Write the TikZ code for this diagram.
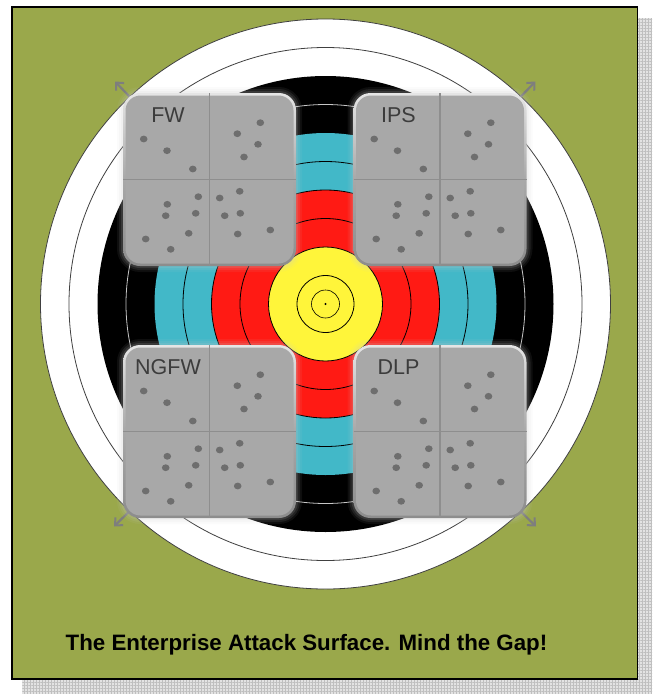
\documentclass[tikz,border=0pt]{standalone}
\usepackage{fontspec}
\setmainfont{Liberation Sans}
\usetikzlibrary{arrows.meta,patterns.meta}
\pgfdeclarelayer{back}
\pgfdeclarelayer{mid}
\pgfsetlayers{back,mid,main}
\definecolor{bggreen}{HTML}{9AA84B}
\definecolor{tblue}{HTML}{42B8C8}
\definecolor{tred}{HTML}{FF1A14}
\definecolor{tyellow}{HTML}{FFF53A}
\definecolor{tilegray}{HTML}{A8A8A8}
\definecolor{dotgray}{HTML}{6E6E6E}
\definecolor{divgray}{HTML}{8E8E8E}
\definecolor{labgray}{HTML}{3C3C3C}
\definecolor{arrgray}{HTML}{7E7E7E}
\newcommand\tiledeco[2]{%
  \begin{scope}[shift={(#1)}]
    \fill[tilegray, rounded corners=15] (-84,-84) rectangle (84,84);
    \draw[divider] (0,-86.5) -- (0,86.5);
    \draw[divider] (-86.5,0) -- (86.5,0);
    \foreach \dx/\dy in {-65.8/-40.5,-42.5/-28.8,-16.7/-10.5,
        50.8/-56.8,27.8/-45.8,48.5/-35.2,34.5/-22.5,
        -11.2/17.2,-42.2/24.8,-43.8/36.2,-13.8/33.8,-20.8/53.8,-63.8/59.5,-38.8/69.8,
        30.2/11.8,10.2/18.5,15.2/36.2,30.8/33.8,60.8/50.5,28.2/54.5}
      \fill[dotgray] (\dx,\dy) ellipse[x radius=3.8, y radius=3.4];
    \node[tilelabel] at (-41.5,-64) {#2};
  \end{scope}}
\newcommand\tileglow[1]{%
  \begin{scope}[shift={(#1)}]
    \foreach \e/\o in {6/.07,4/.1,2/.14}
      \fill[white!60!gray, opacity=\o, rounded corners=17+\e] (-86.5-\e,-86.5-\e) rectangle (86.5+\e,86.5+\e);
  \end{scope}}
\begin{document}
\begin{tikzpicture}[x=1pt,y=-1pt,
  tile/.style={rectangle, rounded corners=17, minimum width=173pt, minimum height=173pt,
    inner sep=0pt, top color=white!80!gray, bottom color=black!45, middle color=tilegray},
  divider/.style={divgray, line width=1.2pt},
  tilelabel/.style={font=\fontsize{21.5}{24}\selectfont, text=labgray, inner sep=0pt},
  arr/.style={arrgray, line width=2.2pt, -{Straight Barb[length=6pt,width=11pt,line width=2pt]}},
  ring/.style={black, line width=0.8pt},
  caption/.style={font=\bfseries\fontsize{22.3}{26}\selectfont, text=black, inner sep=0pt}]
\useasboundingbox (0,0) rectangle (655,694);
\begin{pgfonlayer}{back}
  % page shadow
  \fill[gray!22] (22,18) rectangle (652,694);
  \fill[pattern={Lines[angle=0,distance=3pt,line width=.9pt]}, pattern color=gray!50] (22,18) rectangle (652,694);
  \fill[pattern={Lines[angle=90,distance=3pt,line width=.9pt]}, pattern color=gray!50] (22,18) rectangle (652,694);
  % green panel
  \draw[fill=bggreen, line width=1.2pt] (12,7) rectangle (637.5,679);
  % target
  \coordinate (c) at (325.5,304);
  \fill[white] (c) circle[radius=285];
  \fill[black] (c) circle[radius=228];
  \fill[tblue] (c) circle[radius=171];
  \fill[tred] (c) circle[radius=114];
  \fill[tyellow] (c) circle[radius=57];
  \draw[ring, black!75] (c) circle[radius=285];
  \draw[ring, black!75] (c) circle[radius=256.5];
  \draw[ring, gray!45] (c) circle[radius=199.5];
  \draw[ring] (c) circle[radius=142.5];
  \draw[ring] (c) circle[radius=114];
  \draw[ring] (c) circle[radius=85.5];
  \draw[ring] (c) circle[radius=57];
  \draw[ring] (c) circle[radius=28.5];
  \draw[ring, line width=0.6pt] (c) circle[radius=14];
  \fill[black] (c) circle[radius=1.2];
\end{pgfonlayer}
% tiles
\tileglow{209.5,179.5}
\tileglow{440,179.5}
\tileglow{209.5,431.5}
\tileglow{440,431.5}
\node[tile] (fw) at (209.5,179.5) {};
\node[tile] (ips) at (440,179.5) {};
\node[tile] (ngfw) at (209.5,431.5) {};
\node[tile] (dlp) at (440,431.5) {};
\tiledeco{fw.center}{FW}
\tiledeco{ips.center}{IPS}
\tiledeco{ngfw.center}{NGFW}
\tiledeco{dlp.center}{DLP}
% arrows
\coordinate (fwh) at (115,81.5);
\coordinate (ipsh) at (535.5,81.5);
\coordinate (ngfwh) at (114,526.5);
\coordinate (dlph) at (536,526.5);
\begin{pgfonlayer}{mid}
  \draw[arr] (fw.center) -- (fwh);
  \draw[arr] (ips.center) -- (ipsh);
  \draw[arr] (ngfw.center) -- (ngfwh);
  \draw[arr] (dlp.center) -- (dlph);
\end{pgfonlayer}
% caption
\node[caption] (cap) at (306.5,645) {The Enterprise Attack Surface. Mind the Gap!};
\end{tikzpicture}
\end{document}
